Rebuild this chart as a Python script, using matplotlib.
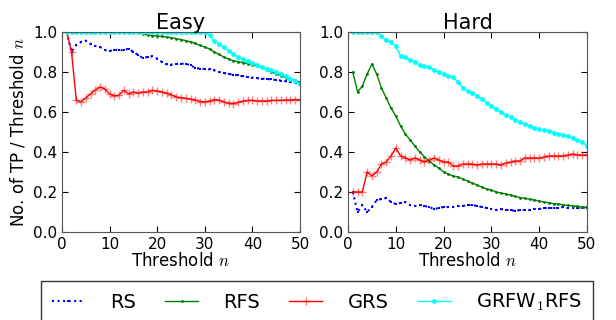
import numpy as np
import matplotlib
matplotlib.use("Agg")
import matplotlib.pyplot as plt

plt.rcParams['mathtext.fontset'] = 'cm'
plt.rcParams['font.family'] = 'DejaVu Sans'

thresholds = list(range(1, 51))

# easy set
easy_rs = [1.0, 0.9, 0.935, 0.95, 0.957, 0.94, 0.93, 0.925, 0.91, 0.905,
           0.912, 0.908, 0.91, 0.917, 0.9, 0.885, 0.87, 0.875, 0.878, 0.867,
           0.85, 0.838, 0.837, 0.84, 0.842, 0.84, 0.835, 0.82, 0.817, 0.815,
           0.813, 0.808, 0.8, 0.795, 0.79, 0.787, 0.783, 0.778, 0.775, 0.772,
           0.769, 0.767, 0.765, 0.763, 0.76, 0.757, 0.753, 0.75, 0.745, 0.742]
easy_rfs = [1.0] * 16 + [0.99, 0.985, 0.982, 0.98,
            0.978, 0.975, 0.972, 0.967, 0.962, 0.957, 0.95, 0.943, 0.933, 0.925,
            0.915, 0.9, 0.888, 0.875, 0.865, 0.857, 0.852, 0.847, 0.842, 0.837,
            0.83, 0.824, 0.812, 0.8, 0.79, 0.782, 0.772, 0.765, 0.757, 0.75]
easy_grs = [1.0, 0.9, 0.66, 0.65, 0.67, 0.69, 0.71, 0.725, 0.715, 0.69,
            0.68, 0.685, 0.708, 0.69, 0.7, 0.695, 0.7, 0.7, 0.708, 0.705,
            0.7, 0.695, 0.685, 0.675, 0.672, 0.668, 0.665, 0.66, 0.652, 0.65,
            0.655, 0.662, 0.66, 0.65, 0.645, 0.642, 0.648, 0.655, 0.658, 0.658,
            0.655, 0.655, 0.655, 0.658, 0.658, 0.658, 0.66, 0.66, 0.662, 0.662]
easy_grfw = [1.0] * 30 + [0.985, 0.955, 0.94, 0.925, 0.905, 0.89, 0.875, 0.865, 0.855, 0.845,
             0.835, 0.825, 0.815, 0.808, 0.8, 0.79, 0.778, 0.767, 0.755, 0.742]

# hard set
hard_rs = [0.2, 0.1, 0.135, 0.1, 0.125, 0.16, 0.165, 0.17, 0.15, 0.14,
           0.145, 0.15, 0.135, 0.13, 0.135, 0.13, 0.125, 0.115, 0.12, 0.125,
           0.125, 0.125, 0.13, 0.13, 0.135, 0.135, 0.13, 0.125, 0.12, 0.115,
           0.11, 0.115, 0.11, 0.11, 0.105, 0.11, 0.11, 0.11, 0.115, 0.115,
           0.12, 0.12, 0.12, 0.12, 0.125, 0.12, 0.12, 0.12, 0.12, 0.125]
hard_rfs = [0.8, 0.7, 0.73, 0.79, 0.84, 0.79, 0.72, 0.67, 0.62, 0.58,
            0.53, 0.49, 0.46, 0.43, 0.4, 0.375, 0.355, 0.335, 0.32, 0.3,
            0.29, 0.28, 0.275, 0.265, 0.255, 0.245, 0.235, 0.225, 0.215, 0.21,
            0.2, 0.195, 0.19, 0.185, 0.178, 0.172, 0.168, 0.164, 0.16, 0.155,
            0.15, 0.146, 0.142, 0.14, 0.136, 0.133, 0.13, 0.128, 0.125, 0.122]
hard_grs = [0.2, 0.2, 0.2, 0.3, 0.28, 0.3, 0.34, 0.35, 0.38, 0.42,
            0.38, 0.37, 0.36, 0.37, 0.36, 0.35, 0.36, 0.37, 0.36, 0.35,
            0.35, 0.33, 0.33, 0.34, 0.34, 0.34, 0.335, 0.34, 0.34, 0.34,
            0.34, 0.335, 0.345, 0.35, 0.355, 0.355, 0.37, 0.37, 0.37, 0.37,
            0.375, 0.38, 0.38, 0.38, 0.38, 0.385, 0.39, 0.385, 0.385, 0.385]
hard_grfw = [1.0] * 6 + [0.98, 0.96, 0.95, 0.93,
             0.88, 0.875, 0.86, 0.85, 0.835, 0.83, 0.825, 0.81, 0.8, 0.79,
             0.78, 0.775, 0.75, 0.72, 0.705, 0.695, 0.68, 0.665, 0.645, 0.63,
             0.615, 0.6, 0.585, 0.575, 0.56, 0.55, 0.54, 0.53, 0.52, 0.515,
             0.51, 0.505, 0.495, 0.49, 0.485, 0.48, 0.47, 0.46, 0.45, 0.43]

labels = ['RS', 'RFS', 'GRS', r'GRFW$_1$RFS']
panels = [('Easy', [easy_rs, easy_rfs, easy_grs, easy_grfw]),
          ('Hard', [hard_rs, hard_rfs, hard_grs, hard_grfw])]

fig = plt.figure(figsize=(6.16, 3.2), dpi=100)
ax1 = fig.add_axes([62/616, 1-232/320, 238/616, 200/320])
ax2 = fig.add_axes([348/616, 1-232/320, 239/616, 200/320])

for ax, (title, series) in zip([ax1, ax2], panels):
    rs, rfs, grs, grfw = series
    ax.plot(thresholds, rs, color='blue', linestyle=':', marker='s', markersize=1.8,
            markeredgewidth=0, label=labels[0])
    ax.plot(thresholds, rfs, color='green', linestyle='-', marker='.', markersize=2,
            linewidth=1, label=labels[1])
    ax.plot(thresholds, grs, color='red', linestyle='-', marker='+', markersize=6,
            markeredgecolor=(1, 0, 0, 0.5), linewidth=1, label=labels[2])
    ax.plot(thresholds, grfw, color='cyan', linestyle='-', marker='o', markersize=3.5,
            markeredgewidth=0, linewidth=1, label=labels[3])
    ax.set_xlim(0, 50)
    ax.set_ylim(0, 1.0)
    ax.set_xticks([0, 10, 20, 30, 40, 50])
    ax.set_yticks([0.0, 0.2, 0.4, 0.6, 0.8, 1.0])
    ax.tick_params(direction='in', top=True, right=True, labelsize=11, length=4)
    ax.set_title(title, fontsize=15, pad=2)
    ax.set_xlabel('Threshold $n$', fontsize=12, labelpad=0)
    for sp in ax.spines.values():
        sp.set_color('#555555')

ax1.set_ylabel('No. of TP / Threshold $n$', fontsize=12)

handles, labs = ax1.get_legend_handles_labels()
fig.legend(handles, labs, loc='upper left', bbox_to_anchor=(41/616, 1-281/320),
           borderaxespad=0, ncol=4, fontsize=14, frameon=True, fancybox=False,
           edgecolor='black', handlelength=1.7, handletextpad=1.3,
           columnspacing=1.5, borderpad=0.55)

fig.savefig('out.png', dpi=100)
